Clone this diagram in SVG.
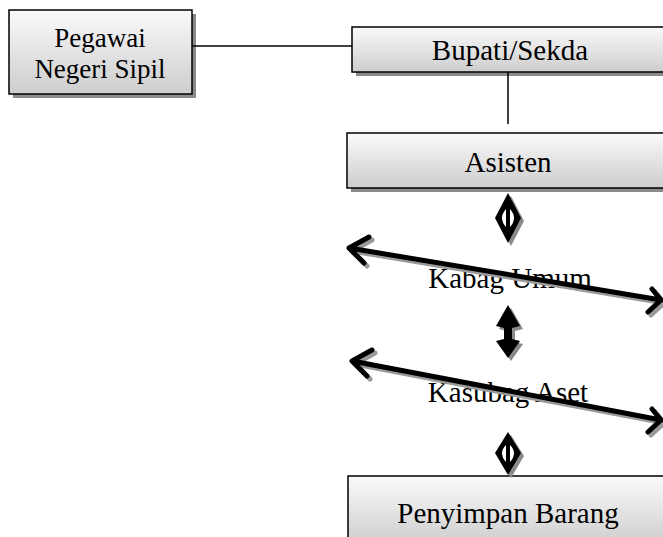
<svg xmlns="http://www.w3.org/2000/svg" width="663" height="537" viewBox="0 0 663 537">
<defs>
<linearGradient id="g" x1="0" y1="0" x2="0" y2="1">
<stop offset="0" stop-color="#fafafa"/>
<stop offset="1" stop-color="#cdcdcd"/>
</linearGradient>
</defs>
<style>
.box{fill:url(#g);stroke:#000;stroke-width:1.5}
.sh{fill:#8a8a8a}
.t{font-family:"Liberation Serif","Times New Roman",serif;font-size:29px;fill:#000;text-anchor:middle}
.tp{font-size:27px}
.ln{stroke:#000;stroke-width:1.5;fill:none}
.ar{stroke:#000;stroke-width:5;fill:none;stroke-linecap:round;stroke-linejoin:round}
.ars{stroke:#9a9a9a;stroke-width:5;fill:none;stroke-linecap:round;stroke-linejoin:round}
.dk{fill:#000}
.dw{fill:#fff}
.ds{fill:#8a8a8a}
</style>
<rect width="663" height="537" fill="#fff"/>
<g id="n-pegawai">
<rect class="sh" x="13" y="14" width="183" height="84"/>
<rect class="box" x="9" y="10" width="183" height="84"/>
<text class="t tp" x="100" y="47">Pegawai</text>
<text class="t tp" x="100" y="78">Negeri Sipil</text>
</g>
<g id="n-bupati">
<rect class="sh" x="356" y="31" width="320" height="45"/>
<rect class="box" x="352" y="27" width="320" height="45"/>
<text class="t" x="510" y="60">Bupati/Sekda</text>
</g>
<g id="n-asisten">
<rect class="sh" x="351" y="137" width="320" height="55"/>
<rect class="box" x="347" y="133" width="320" height="55"/>
<text class="t" x="508" y="172">Asisten</text>
</g>
<g id="n-kabag">
<text class="t" x="510" y="288">Kabag Umum</text>
</g>
<g id="n-kasubag">
<text class="t" x="508" y="402">Kasubag  Aset</text>
</g>
<g id="n-penyimpan">
<rect class="box" x="348" y="476" width="320" height="70"/>
<text class="t" x="508" y="523">Penyimpan Barang</text>
</g>
<g id="connectors">
<line class="ln" x1="192" y1="46" x2="352" y2="46"/>
<line class="ln" x1="508" y1="72" x2="508" y2="124"/>
<g>
<path class="ds" d="M511 196 L524 221 L511 246 L498 221 Z"/>
<path class="dk" d="M508 193 L521 218 L508 243 L495 218 Z"/>
<path class="dw" d="M506 209 Q498 218 506 227 Z M510 209 Q518 218 510 227 Z"/>
</g>
<g>
<path class="ds" d="M511 308 L523 329 L515 331 L515 342 L523 344 L511 361 L499 344 L507 342 L507 331 L499 329 Z"/>
<path class="dk" d="M508 305 L520 326 L512 328 L512 339 L520 341 L508 358 L496 341 L504 339 L504 328 L496 326 Z"/>
</g>
<g>
<path class="ds" d="M511 435 L524 456 L511 478 L498 456 Z"/>
<path class="dk" d="M508 432 L521 453 L508 475 L495 453 Z"/>
<path class="dw" d="M506 445 Q498 453 506 462 Z M510 445 Q518 453 510 462 Z"/>
</g>
<g>
<path class="ars" transform="translate(3,3)" d="M349 248 L661 300 M369 237 L349 248 L364 263 M652 289 L661 300 L648 312"/>
<path class="ar" d="M349 248 L661 300 M369 237 L349 248 L364 263 M652 289 L661 300 L648 312"/>
</g>
<g>
<path class="ars" transform="translate(3,3)" d="M352 361 L661 420 M372 350 L352 361 L367 376 M652 409 L661 420 L648 432"/>
<path class="ar" d="M352 361 L661 420 M372 350 L352 361 L367 376 M652 409 L661 420 L648 432"/>
</g>
</g>
</svg>
